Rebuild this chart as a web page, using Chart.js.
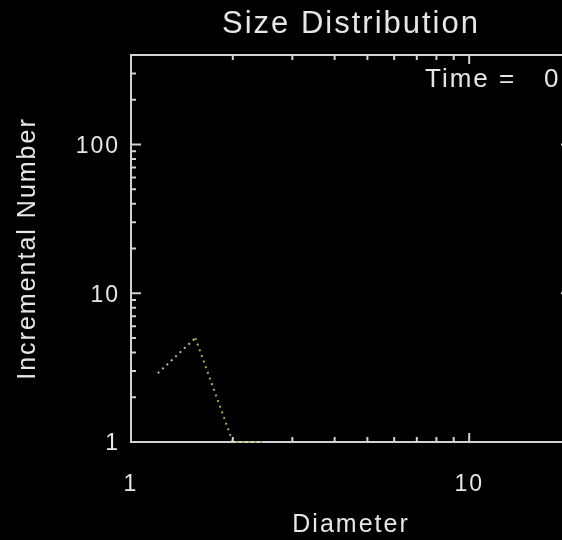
<!DOCTYPE html>
<html>
<head>
<meta charset="utf-8">
<script src="https://cdn.jsdelivr.net/npm/chart.js@4/dist/chart.umd.min.js"></script>
<style>
  html, body { margin: 0; padding: 0; background: #000; overflow: hidden; }
  #wrap { width: 700px; height: 540px; }
</style>
</head>
<body>
<div id="wrap"><canvas id="sizeChart" width="700" height="540"></canvas></div>
<script>
// size distribution at time 0
var diameters = [1.2, 1.55, 2.0, 2.5];
var counts = [2.9, 5.0, 1.0, 1.0];
var xMajor = [1, 10];
var xMinor = [2, 3, 4, 5, 6, 7, 8, 9, 20];
var yMajor = [1, 10, 100];
var yMinor = [2, 3, 4, 5, 6, 7, 8, 9, 20, 30, 40, 50, 60, 70, 80, 90, 200, 300, 400];
var timeLabel = 'Time =   0.0';

var axisColor = '#d2d2d2';
var textColor = '#e6e6e6';
var fontFam = '"Liberation Sans", Arial, Helvetica, sans-serif';

// IDL style: ticks pointing inward on all four sides + time stamp
var idlAxes = {
    id: 'idlAxes',
    beforeDraw: function (chart) {
        chart.ctx.letterSpacing = '2px';
    },
    afterDraw: function (chart) {
        var ctx = chart.ctx, a = chart.chartArea;
        var xs = chart.scales.x, ys = chart.scales.y;
        ctx.save();
        ctx.strokeStyle = axisColor;
        ctx.lineWidth = 2;
        ctx.beginPath();
        ctx.moveTo(a.left, a.top); ctx.lineTo(a.right, a.top);
        ctx.moveTo(a.right, a.top); ctx.lineTo(a.right, a.bottom);
        function xt(v, len) {
            var px = xs.getPixelForValue(v);
            ctx.moveTo(px, a.bottom); ctx.lineTo(px, a.bottom - len);
            ctx.moveTo(px, a.top); ctx.lineTo(px, a.top + len);
        }
        function yt(v, len) {
            var py = ys.getPixelForValue(v);
            ctx.moveTo(a.left, py); ctx.lineTo(a.left + len, py);
            ctx.moveTo(a.right, py); ctx.lineTo(a.right - len, py);
        }
        xMajor.forEach(function (v) { xt(v, 9); });
        xMinor.forEach(function (v) { xt(v, 5); });
        yMajor.forEach(function (v) { yt(v, 10); });
        yMinor.forEach(function (v) { yt(v, 5); });
        ctx.stroke();
        ctx.fillStyle = textColor;
        ctx.font = '26px ' + fontFam;
        ctx.textAlign = 'left';
        ctx.textBaseline = 'alphabetic';
        ctx.fillText(timeLabel, 425, 87);
        ctx.restore();
    }
};

var ctxS = document.getElementById('sizeChart').getContext('2d');
var sizeChart = new Chart(ctxS, {
    type: 'line',
    data: {
        labels: diameters,
        datasets: [{
            data: diameters.map(function (d, i) { return { x: d, y: counts[i] }; }),
            borderColor: '#a6ae3c',
            borderWidth: 2,
            borderDash: [2, 4],
            pointRadius: 0,
            tension: 0,
            clip: 4,
            segment: {
                borderColor: function (c) { return c.p0DataIndex === 0 ? '#b8bc98' : '#a6ae3c'; }
            }
        }]
    },
    options: {
        responsive: false,
        animation: false,
        layout: { padding: { left: 0, right: 129, top: 0, bottom: 0 } },
        plugins: {
            legend: { display: false },
            tooltip: { enabled: false },
            title: {
                display: true,
                fullSize: false,
                text: 'Size Distribution',
                color: textColor,
                font: { family: fontFam, size: 31, weight: 'normal' },
                padding: { top: 6, bottom: 11.8 }
            }
        },
        scales: {
            x: {
                type: 'logarithmic',
                min: 1,
                max: 20,
                afterBuildTicks: function (s) { s.ticks = xMajor.map(function (v) { return { value: v }; }); },
                afterFit: function (s) { s.height = 98; },
                ticks: {
                    color: textColor,
                    font: { family: fontFam, size: 23 },
                    padding: 29,
                    autoSkip: false,
                    maxRotation: 0,
                    callback: function (v) { return String(v); }
                },
                grid: { drawOnChartArea: false, drawTicks: false },
                border: { display: true, color: axisColor, width: 2 },
                title: {
                    display: true,
                    text: 'Diameter',
                    color: textColor,
                    font: { family: fontFam, size: 25 },
                    padding: { top: 0, bottom: 0 }
                }
            },
            y: {
                type: 'logarithmic',
                min: 1,
                max: 400,
                afterBuildTicks: function (s) { s.ticks = yMajor.map(function (v) { return { value: v }; }); },
                afterFit: function (s) { s.width = 131; },
                ticks: {
                    color: textColor,
                    font: { family: fontFam, size: 23 },
                    padding: 11,
                    labelOffset: 2,
                    autoSkip: false,
                    callback: function (v) { return String(v); }
                },
                grid: { drawOnChartArea: false, drawTicks: false },
                border: { display: true, color: axisColor, width: 2 },
                title: {
                    display: true,
                    text: 'Incremental Number',
                    color: textColor,
                    font: { family: fontFam, size: 25 },
                    padding: { top: 13, bottom: 0 }
                }
            }
        }
    },
    plugins: [idlAxes]
});
</script>
</body>
</html>
